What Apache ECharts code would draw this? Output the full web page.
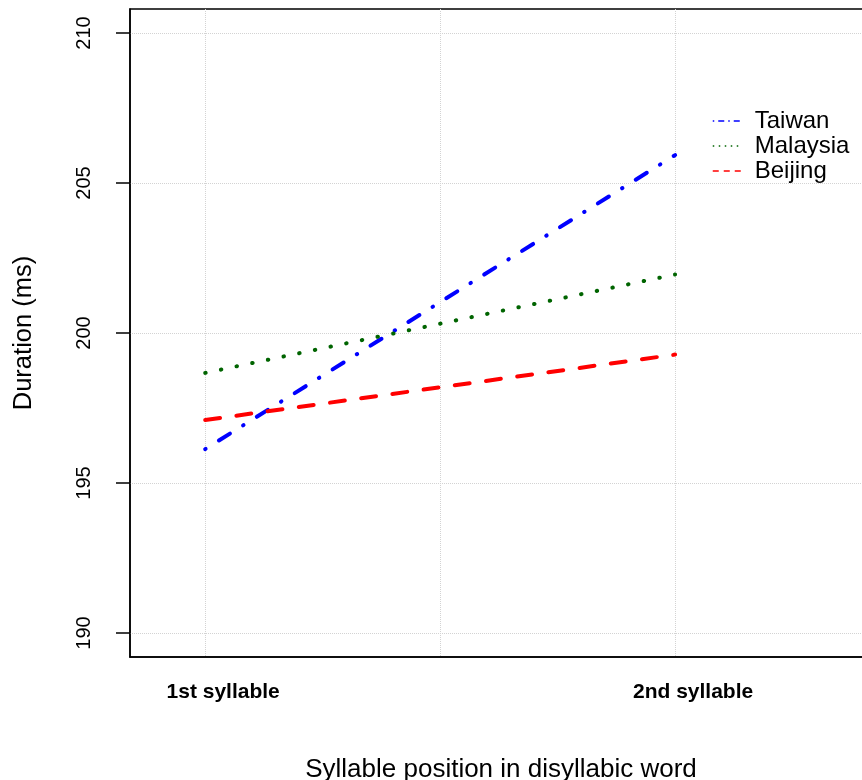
<!DOCTYPE html>
<html>
<head>
<meta charset="utf-8">
<script src="https://cdn.jsdelivr.net/npm/echarts@6/dist/echarts.min.js"></script>
<style>
  html, body { margin: 0; padding: 0; background: #fff; }
  #chart { width: 862px; height: 780px; }
</style>
</head>
<body>
<div id="chart"></div>
<script>
  // syllable positions (x) and mean durations in ms
  var positions = [1, 2];
  var xLabels = ['1st syllable', '2nd syllable'];
  var yTicks = [190, 195, 200, 205, 210];
  var taiwan = [196.13, 205.93];
  var malaysia = [198.67, 201.95];
  var beijing = [197.1, 199.28];

  function pairs(vals) {
    return positions.map(function (p, i) { return [p, vals[i]]; });
  }

  var chart = echarts.init(document.getElementById('chart'));
  var font = 'Liberation Sans, Arial, Helvetica, sans-serif';

  var option = {
    backgroundColor: '#fff',
    animation: false,
    grid: {
      left: 130, right: -10, top: 9, bottom: 123,
      outerBoundsMode: 'none',
      show: true, borderColor: '#000', borderWidth: 1.5
    },
    legend: {
      orient: 'vertical',
      left: 707, top: 104,
      itemWidth: 30, itemHeight: 14, itemGap: 1,
      itemStyle: { opacity: 0 },
      textStyle: { fontSize: 24, color: '#000', fontFamily: font, padding: [0, 0, 0, 7] },
      data: [
        { name: 'Taiwan', lineStyle: { width: 1.5, type: [1.5, 4, 6, 4], cap: 'butt' } },
        { name: 'Malaysia', lineStyle: { width: 1.5, type: [1.5, 4.5], cap: 'butt' } },
        { name: 'Beijing', lineStyle: { width: 1.5, type: [6, 5], cap: 'butt' } }
      ]
    },
    xAxis: {
      type: 'value',
      min: 0.84, max: 2.419,
      name: 'Syllable position in disyllabic word',
      nameLocation: 'middle',
      nameGap: 100,
      nameTextStyle: { fontSize: 26, color: '#000', fontFamily: font },
      axisLine: { show: true, lineStyle: { color: '#000', width: 1.5 } },
      axisTick: { show: false, customValues: [1, 1.5, 2] },
      axisLabel: {
        customValues: positions,
        formatter: function (v) { return xLabels[Math.round(v) - 1]; },
        fontSize: 21, fontWeight: 'bold', color: '#000', fontFamily: font,
        margin: 25, padding: [0, 0, 0, 36]
      },
      splitLine: { show: true, lineStyle: { color: '#d3d3d3', type: 'dotted', width: 1 } }
    },
    yAxis: {
      type: 'value',
      min: 189.2, max: 210.8,
      name: 'Duration (ms)',
      nameLocation: 'middle',
      nameGap: 93,
      nameRotate: 90,
      nameTextStyle: { fontSize: 25.5, color: '#000', fontFamily: font },
      axisLine: { show: true, lineStyle: { color: '#000', width: 1.5 } },
      axisTick: { show: true, length: 14, customValues: yTicks, lineStyle: { color: '#000', width: 1.5 } },
      axisLabel: {
        customValues: yTicks,
        rotate: 90,
        fontSize: 20, color: '#000', fontFamily: font,
        margin: 36
      },
      splitLine: { show: true, lineStyle: { color: '#d3d3d3', type: 'dotted', width: 1 } }
    },
    series: [
      {
        name: 'Taiwan', type: 'line', data: pairs(taiwan), symbol: 'none',
        lineStyle: { color: '#0000ff', width: 4, type: [0.5, 15.7, 13, 15.5], cap: 'round' },
        itemStyle: { color: '#0000ff' }
      },
      {
        name: 'Malaysia', type: 'line', data: pairs(malaysia), symbol: 'none',
        lineStyle: { color: '#006400', width: 4, type: [0.5, 15.5], cap: 'round' },
        itemStyle: { color: '#006400' }
      },
      {
        name: 'Beijing', type: 'line', data: pairs(beijing), symbol: 'none',
        lineStyle: { color: '#ff0000', width: 4, type: [15, 16.5], cap: 'round' },
        itemStyle: { color: '#ff0000' }
      }
    ]
  };

  chart.setOption(option);
</script>
</body>
</html>
